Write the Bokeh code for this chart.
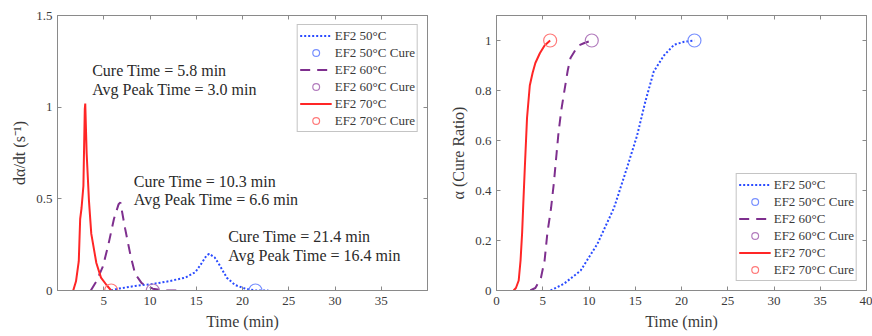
from bokeh.plotting import figure
from bokeh.layouts import row
from bokeh.models import FixedTicker, LinearAxis
from bokeh.core.properties import value
from bokeh.embed import file_html
from bokeh.resources import INLINE

FONT = "Liberation Serif"

# ---------------- data ----------------
labels = ["EF2 50°C", "EF2 60°C", "EF2 70°C"]
cure_times = [21.4, 10.3, 5.8]
peak_times = [16.4, 6.6, 3.0]

# cure rate dalpha/dt (left panel)
t50_rate = [5.8, 6.6, 8.4, 10.2, 12.0, 13.8, 14.9, 15.6, 16.1, 16.4, 17.0, 17.5, 18.3, 19.2, 20.3, 21.4, 22.8]
r50 = [0.0, 0.01, 0.025, 0.035, 0.05, 0.07, 0.10, 0.15, 0.19, 0.20, 0.18, 0.14, 0.07, 0.03, 0.01, 0.0, 0.0]
t60_rate = [3.6, 4.2, 4.9, 5.5, 6.1, 6.6, 6.8, 7.3, 7.9, 8.4, 9.1, 10.3, 11.5, 13.0]
r60 = [0.0, 0.05, 0.13, 0.25, 0.39, 0.47, 0.48, 0.34, 0.19, 0.09, 0.04, 0.01, 0.0, 0.0]
t70_rate = [1.7, 2.0, 2.3, 2.45, 2.6, 2.8, 2.95, 3.0, 3.15, 3.4, 3.65, 4.2, 4.7, 5.3, 5.8]
r70 = [0.0, 0.05, 0.16, 0.39, 0.45, 0.57, 0.99, 1.02, 0.75, 0.49, 0.31, 0.15, 0.07, 0.03, 0.0]

# degree of cure alpha (right panel)
t50_alpha = [5.85, 7.3, 9.1, 10.9, 12.7, 14.1, 15.2, 16.1, 17.0, 18.1, 19.2, 20.3, 21.4]
a50 = [0.0, 0.027, 0.08, 0.186, 0.33, 0.49, 0.62, 0.757, 0.876, 0.94, 0.983, 0.995, 1.0]
t60_alpha = [3.65, 4.2, 4.8, 5.2, 5.5, 5.9, 6.2, 6.5, 6.7, 7.0, 7.3, 7.7, 8.0, 8.5, 8.9, 9.5, 10.3]
a60 = [0.0, 0.01, 0.05, 0.12, 0.23, 0.33, 0.43, 0.55, 0.63, 0.72, 0.79, 0.88, 0.93, 0.96, 0.98, 0.99, 1.0]
t70_alpha = [1.85, 2.1, 2.4, 2.6, 2.77, 2.9, 3.06, 3.3, 3.6, 3.9, 4.2, 4.7, 5.2, 5.8]
a70 = [0.0, 0.01, 0.04, 0.12, 0.23, 0.35, 0.49, 0.69, 0.82, 0.87, 0.91, 0.95, 0.98, 1.0]

left_xticks = [5, 10, 15, 20, 25, 30, 35]
left_yticks = [0, 0.5, 1, 1.5]
right_xticks = [0, 5, 10, 15, 20, 25, 30, 35, 40]
right_yticks = [0, 0.2, 0.4, 0.6, 0.8, 1]

# ---------------- styles ----------------
line_colors = ["#2a4bff", "#7e2f8e", "#ff2626"]
marker_colors = ["#7890ff", "#b27cbd", "#ff7a7a"]
dashes = ["2 2", "10 7", "solid"]
widths = [2, 2, 2]
GRAY = "#8a8a8a"
TXT = "#3a3a3a"


def fmt(v):
    return ("%g" % v)


def style(p, xticks, yticks, ylabel):
    p.xgrid.visible = False
    p.ygrid.visible = False
    p.outline_line_color = GRAY
    p.outline_line_width = 1
    p.background_fill_color = "white"
    p.border_fill_color = "white"
    p.xaxis.axis_label = "Time (min)"
    p.yaxis.axis_label = ylabel
    p.xaxis.ticker = FixedTicker(ticks=xticks)
    p.yaxis.ticker = FixedTicker(ticks=yticks)
    p.xaxis.major_label_overrides = {v: fmt(v) for v in xticks}
    p.yaxis.major_label_overrides = {v: fmt(v) for v in yticks}
    for ax in p.xaxis + p.yaxis:
        ax.axis_line_color = GRAY
        ax.major_tick_line_color = GRAY
        ax.major_tick_in = 4
        ax.major_tick_out = 0
        ax.minor_tick_line_color = None
        ax.major_label_text_font = FONT
        ax.major_label_text_font_size = "13px"
        ax.major_label_text_color = TXT
        ax.axis_label_text_font = FONT
        ax.axis_label_text_font_size = "16px"
        ax.axis_label_text_font_style = "normal"
        ax.axis_label_text_color = TXT
    p.xaxis.major_label_standoff = 6
    p.xaxis.axis_label_standoff = 5
    p.yaxis.major_label_standoff = 5
    p.yaxis.axis_label_standoff = 5
    top = LinearAxis(ticker=FixedTicker(ticks=xticks), major_label_text_font_size="0px",
                     major_label_text_color=None, major_label_standoff=0,
                     axis_line_color=GRAY, major_tick_line_color=GRAY,
                     major_tick_in=4, major_tick_out=0, minor_tick_line_color=None)
    right = LinearAxis(ticker=FixedTicker(ticks=yticks), major_label_text_font_size="0px",
                       major_label_text_color=None, major_label_standoff=0,
                       axis_line_color=GRAY, major_tick_line_color=GRAY,
                       major_tick_in=4, major_tick_out=0, minor_tick_line_color=None)
    p.add_layout(top, "above")
    p.add_layout(right, "right")


def style_legend(p, location):
    lg = p.legend[0]
    lg.location = location
    lg.margin = 9
    lg.padding = 2
    lg.spacing = 0
    lg.glyph_height = 17
    lg.label_height = 17
    lg.glyph_width = 32
    lg.label_standoff = 3
    lg.label_text_font = FONT
    lg.label_text_font_size = "13px"
    lg.label_text_color = TXT
    lg.border_line_color = GRAY
    lg.border_line_width = 1
    lg.background_fill_color = "white"
    lg.background_fill_alpha = 1


# ---------------- left panel ----------------
p1 = figure(width=430, height=336, x_range=(0, 40), y_range=(0, 1.5),
            output_backend="svg", toolbar_location=None,
            min_border_left=57, min_border_right=3, min_border_top=15, min_border_bottom=46)
style(p1, left_xticks, left_yticks, "dα/dt (s⁻¹)")

rate_series = [(t50_rate, r50), (t60_rate, r60), (t70_rate, r70)]
for i, (tx, ry) in enumerate(rate_series):
    p1.line(tx, ry, line_color=line_colors[i], line_width=widths[i], line_dash=dashes[i],
            legend_label=labels[i])
    p1.scatter([cure_times[i]], [0], marker="circle", size=13, fill_color=None,
               line_color=marker_colors[i], line_width=1.2, legend_label=labels[i] + " Cure")

ann_x = [18.45, 8.25, 3.75]
ann_y1 = [0.295, 0.595, 1.2]
ann_y2 = [0.19, 0.495, 1.096]
for i in range(3):
    p1.text(x=[ann_x[i]], y=[ann_y1[i]], text=["Cure Time = %.1f min" % cure_times[i]],
            text_font=value(FONT), text_font_size="16px", text_color="#2a2a2a",
            text_baseline="middle", text_align="left")
    p1.text(x=[ann_x[i]], y=[ann_y2[i]], text=["Avg Peak Time = %.1f min" % peak_times[i]],
            text_font=value(FONT), text_font_size="16px", text_color="#2a2a2a",
            text_baseline="middle", text_align="left")
style_legend(p1, "top_right")

# ---------------- right panel ----------------
p2 = figure(width=442, height=336, x_range=(0, 40), y_range=(0, 1.1),
            output_backend="svg", toolbar_location=None,
            min_border_left=66, min_border_right=6, min_border_top=14, min_border_bottom=46)
style(p2, right_xticks, right_yticks, "α (Cure Ratio)")

alpha_series = [(t50_alpha, a50), (t60_alpha, a60), (t70_alpha, a70)]
for i, (tx, ay) in enumerate(alpha_series):
    p2.line(tx, ay, line_color=line_colors[i], line_width=widths[i], line_dash=dashes[i],
            legend_label=labels[i])
    p2.scatter([cure_times[i]], [1], marker="circle", size=13, fill_color=None,
               line_color=marker_colors[i], line_width=1.2, legend_label=labels[i] + " Cure")
style_legend(p2, "bottom_right")

layout = row(p1, p2)
open("out.html", "w").write(file_html(layout, INLINE))
